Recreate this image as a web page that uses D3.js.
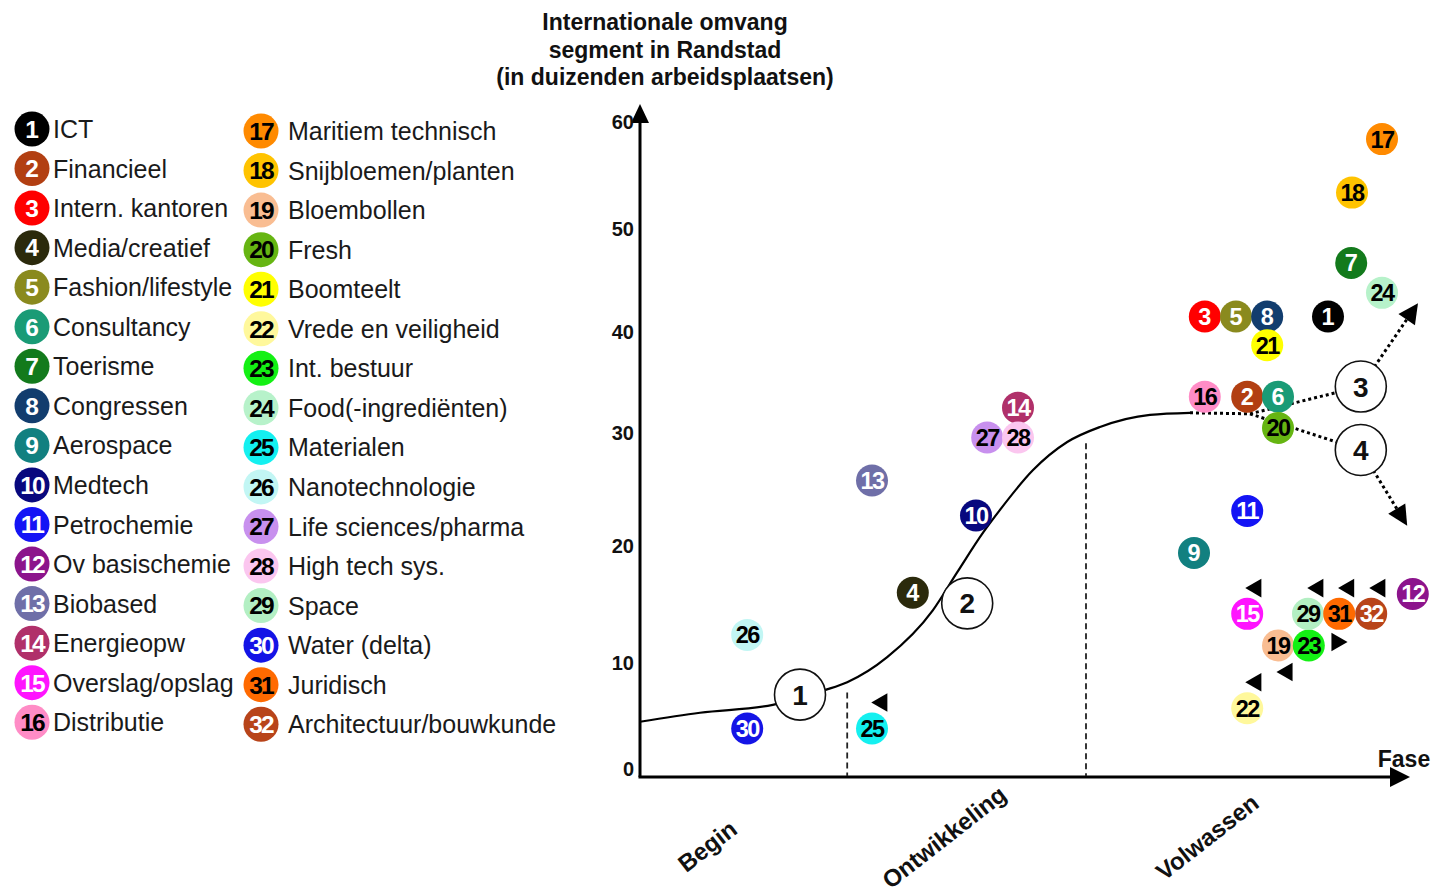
<!DOCTYPE html>
<html>
<head>
<meta charset="utf-8">
<script src="https://cdn.jsdelivr.net/npm/d3@7"></script>
<style>
  body { margin: 0; background: #fff; }
  svg text { font-family: "Liberation Sans", Arial, sans-serif; }
</style>
</head>
<body>
<svg id="chart" width="1446" height="896"></svg>
<script>
// ---------- DATA ----------
const segmentIds = d3.range(1, 33);
const segmentNames = [
  "ICT", "Financieel", "Intern. kantoren", "Media/creatief", "Fashion/lifestyle",
  "Consultancy", "Toerisme", "Congressen", "Aerospace", "Medtech", "Petrochemie",
  "Ov basischemie", "Biobased", "Energieopw", "Overslag/opslag", "Distributie",
  "Maritiem technisch", "Snijbloemen/planten", "Bloembollen", "Fresh", "Boomteelt",
  "Vrede en veiligheid", "Int. bestuur", "Food(-ingrediënten)", "Materialen",
  "Nanotechnologie", "Life sciences/pharma", "High tech sys.", "Space",
  "Water (delta)", "Juridisch", "Architectuur/bouwkunde"
];
const segmentColors = [
  "#000000", "#B23F12", "#FF0000", "#2B2A0C", "#8A8A1E", "#1A9B76", "#137A1C", "#123D6E",
  "#128080", "#08087E", "#1414F5", "#8C148C", "#6F6FA8", "#B0306A", "#FF14FF", "#FF8CC6",
  "#FF8A00", "#FFC300", "#F9BD92", "#66B512", "#FFFF00", "#FFF89C", "#14F014", "#B7F2CA",
  "#14F0F0", "#C2F6F4", "#C890EE", "#FBC6EF", "#B3EFC3", "#1414E6", "#FF6A00", "#B8441A"
];
const segmentTextColors = [
  "#fff", "#fff", "#fff", "#fff", "#fff", "#fff", "#fff", "#fff",
  "#fff", "#fff", "#fff", "#fff", "#fff", "#fff", "#fff", "#000",
  "#000", "#000", "#000", "#000", "#000", "#000", "#000", "#000",
  "#000", "#000", "#000", "#000", "#000", "#fff", "#000", "#fff"
];
// position on the phase axis (0-100) and size (thousands of jobs)
const segmentFase = [
  86, 75.9, 70.6, 34.1, 74.5, 79.75, 88.9, 78.4,
  69.25, 42, 75.9, 96.6, 29, 47.25, 75.9, 70.6,
  92.75, 89, 79.75, 79.75, 78.4, 75.9, 83.6, 92.75,
  29, 13.4, 43.4, 47.25, 83.5, 13.4, 87.4, 91.4
];
const segmentOmvang = [
  41.5, 33.6, 41.5, 16.0, 41.5, 33.6, 46.7, 41.5,
  19.4, 22.7, 23.1, 15.9, 25.8, 32.5, 14.2, 33.6,
  58.4, 53.4, 11.5, 30.5, 38.7, 6.0, 11.5, 43.8,
  4.2, 12.4, 29.6, 29.6, 14.2, 4.2, 14.2, 14.2
];

const yTicks = [0, 10, 20, 30, 40, 50, 60];
const titleLines = ["Internationale omvang", "segment in Randstad", "(in duizenden arbeidsplaatsen)"];
const axisXLabel = "Fase";
const phaseLabels = ["Begin", "Ontwikkeling", "Volwassen"];
const phaseCenters = [8.4, 38, 70.9];
const phaseBoundaryFase = [25.9, 55.75];
const phaseBoundaryTop = [7.4, 29.1];

// S-curve of the life cycle
const curveFase =   [0, 7.5, 16.6, 23.1, 25.9, 30.9, 36.6, 39.6, 42.9, 45, 49.1, 53.4, 57.5, 63.75, 68.75];
const curveOmvang = [4.8, 5.6, 6.3, 7.6, 8.3, 10.5, 14.5, 17.7, 21.2, 23.2, 26.7, 29.2, 30.6, 31.8, 32.0];

// stage markers 1-4
const stageIds = [1, 2, 3, 4];
const stageFase = [20, 40.9, 90.1, 90.1];
const stageOmvang = [7.2, 15.1, 34.6, 28.5];

// dotted continuation after the curve: split point, then the two branches
const splitFase = 76.25, splitOmvang = 31.9;
const branchTipFase = [97.25, 95.9];
const branchTipOmvang = [42.8, 21.8];

// small movement triangles
const triFase =   [30.25, 77, 84.75, 88.6, 92.5, 87.1, 80.9, 77];
const triOmvang = [6.5, 16.4, 16.4, 16.4, 16.4, 11.8, 9.2, 8.3];
const triDir =    ["left", "left", "left", "left", "left", "right", "left", "left"];

// ---------- CHART ----------
const svg = d3.select("#chart");
const FONT = '"Liberation Sans", Arial, sans-serif';

const x = d3.scaleLinear().domain([0, 100]).range([640, 1440]);
const y = d3.scaleLinear().domain(yTicks).range([776, 663, 546, 433, 332, 229, 122]);

// Title
svg.append("g").selectAll("text").data(titleLines).join("text")
  .attr("x", 665).attr("y", (d, i) => 30 + i * 27.5)
  .attr("text-anchor", "middle")
  .attr("font-size", 23).attr("font-weight", "bold").attr("fill", "#111")
  .text(d => d);

function arrowHead(g, x0, y0, x1, y1, len, half) {
  const a = Math.atan2(y1 - y0, x1 - x0);
  const bx = x1 - len * Math.cos(a), by = y1 - len * Math.sin(a);
  const px = -Math.sin(a) * half, py = Math.cos(a) * half;
  g.append("path")
    .attr("d", `M${x1},${y1}L${bx + px},${by + py}L${bx - px},${by - py}Z`)
    .attr("fill", "#000");
  return [bx, by];
}

// Axes
const axisG = svg.append("g");
axisG.append("line")
  .attr("x1", x(0)).attr("y1", y(0) + 1).attr("x2", x(0)).attr("y2", 120)
  .attr("stroke", "#000").attr("stroke-width", 3);
arrowHead(axisG, x(0), 200, x(0), 104, 19, 9);
axisG.append("line")
  .attr("x1", x(0) - 1.5).attr("y1", y(0) + 1).attr("x2", 1392).attr("y2", y(0) + 1)
  .attr("stroke", "#000").attr("stroke-width", 3);
arrowHead(axisG, 1300, y(0) + 1, 1410, y(0) + 1, 20, 10);

const yAxis = d3.axisLeft(y).tickValues(yTicks).tickSize(0).tickPadding(6).tickFormat(d3.format("d"));
const yAxisG = svg.append("g").attr("transform", `translate(${x(0)},0)`).call(yAxis);
yAxisG.select(".domain").remove();
yAxisG.selectAll("text")
  .attr("font-family", FONT).attr("font-size", 20).attr("font-weight", "bold").attr("fill", "#111")
  .attr("dy", d => d === 0 ? "-0.05em" : "0.32em");

svg.append("text")
  .attr("x", 1404).attr("y", 767).attr("text-anchor", "middle")
  .attr("font-size", 23).attr("font-weight", "bold").attr("fill", "#111")
  .text(axisXLabel);

// Phase labels (rotated)
svg.append("g").selectAll("text").data(phaseLabels).join("text")
  .attr("transform", (d, i) => `translate(${x(phaseCenters[i])},${846 - (i > 0 ? 9 : 0)}) rotate(-38)`)
  .attr("text-anchor", "middle").attr("dominant-baseline", "central")
  .attr("font-size", 24).attr("font-weight", "bold").attr("fill", "#111")
  .text(d => d);

// Phase boundaries (dashed)
svg.append("g").selectAll("line").data(phaseBoundaryFase).join("line")
  .attr("x1", d => x(d)).attr("x2", d => x(d))
  .attr("y1", (d, i) => y(phaseBoundaryTop[i])).attr("y2", y(0))
  .attr("stroke", "#222").attr("stroke-width", 1.8).attr("stroke-dasharray", "6,4");

// S-curve
const curvePts = curveFase.map((f, i) => [x(f), y(curveOmvang[i])]);
svg.append("path")
  .attr("d", d3.line().curve(d3.curveMonotoneX)(curvePts))
  .attr("fill", "none").attr("stroke", "#000").attr("stroke-width", 2.2);

// Dotted branches
const dotG = svg.append("g");
const lastPt = curvePts[curvePts.length - 1];
const splitPt = [x(splitFase), y(splitOmvang)];
const dotted = sel => sel.attr("fill", "none").attr("stroke", "#000")
  .attr("stroke-width", 3).attr("stroke-dasharray", "3,3");
dotG.append("path").attr("d", d3.line()([lastPt, splitPt])).call(dotted);
[2, 3].forEach((si, b) => {
  const c = [x(stageFase[si]), y(stageOmvang[si])];
  dotG.append("path").attr("d", d3.line()([splitPt, c])).call(dotted);
  const tip = [x(branchTipFase[b]), y(branchTipOmvang[b])];
  const base = arrowHead(dotG, c[0], c[1], tip[0], tip[1], 20, 10);
  dotG.append("path").attr("d", d3.line()([c, base])).call(dotted);
});

// Movement triangles
svg.append("g").selectAll("path").data(triFase).join("path")
  .attr("d", d3.symbol(d3.symbolTriangle, 150)())
  .attr("transform", (d, i) => `translate(${x(d)},${y(triOmvang[i])}) rotate(${triDir[i] === "left" ? -90 : 90})`)
  .attr("fill", "#000");

// Stage markers
const stageG = svg.append("g").selectAll("g").data(stageIds).join("g")
  .attr("transform", (d, i) => `translate(${x(stageFase[i])},${y(stageOmvang[i])})`);
stageG.append("circle").attr("r", 25.5).attr("fill", "#fff").attr("stroke", "#111").attr("stroke-width", 1.6);
stageG.append("text").attr("text-anchor", "middle").attr("dy", "0.36em")
  .attr("font-size", 28).attr("font-weight", "bold").attr("fill", "#111").text(d => d);

// Segment dots
const dots = svg.append("g").selectAll("g").data(segmentIds).join("g")
  .attr("transform", (d, i) => `translate(${x(segmentFase[i])},${y(segmentOmvang[i])})`);
dots.append("circle").attr("r", 16).attr("fill", (d, i) => segmentColors[i]);
dots.append("text").attr("text-anchor", "middle").attr("dy", "0.36em")
  .attr("font-size", 23.5).attr("font-weight", "bold")
  .attr("letter-spacing", d => d > 9 ? -1.5 : 0)
  .attr("fill", (d, i) => segmentTextColors[i]).text(d => d);

// Legend
const leg = svg.append("g").selectAll("g").data(segmentIds).join("g")
  .attr("transform", (d, i) => {
    const col = i < 16 ? 0 : 1, row = i % 16;
    return `translate(${col ? 261 : 32},${129 + row * 39.55 + col * 2})`;
  });
leg.append("circle").attr("r", 17.5).attr("fill", (d, i) => segmentColors[i]);
leg.append("text").attr("text-anchor", "middle").attr("dy", "0.36em")
  .attr("font-size", 24.5).attr("font-weight", "bold")
  .attr("letter-spacing", d => d > 9 ? -1.8 : 0)
  .attr("fill", (d, i) => segmentTextColors[i]).text(d => d);
leg.append("text").attr("x", (d, i) => i < 16 ? 21 : 27).attr("dy", "0.36em")
  .attr("font-size", 25).attr("fill", "#1a1a1a")
  .text((d, i) => segmentNames[i]);
</script>
</body>
</html>
